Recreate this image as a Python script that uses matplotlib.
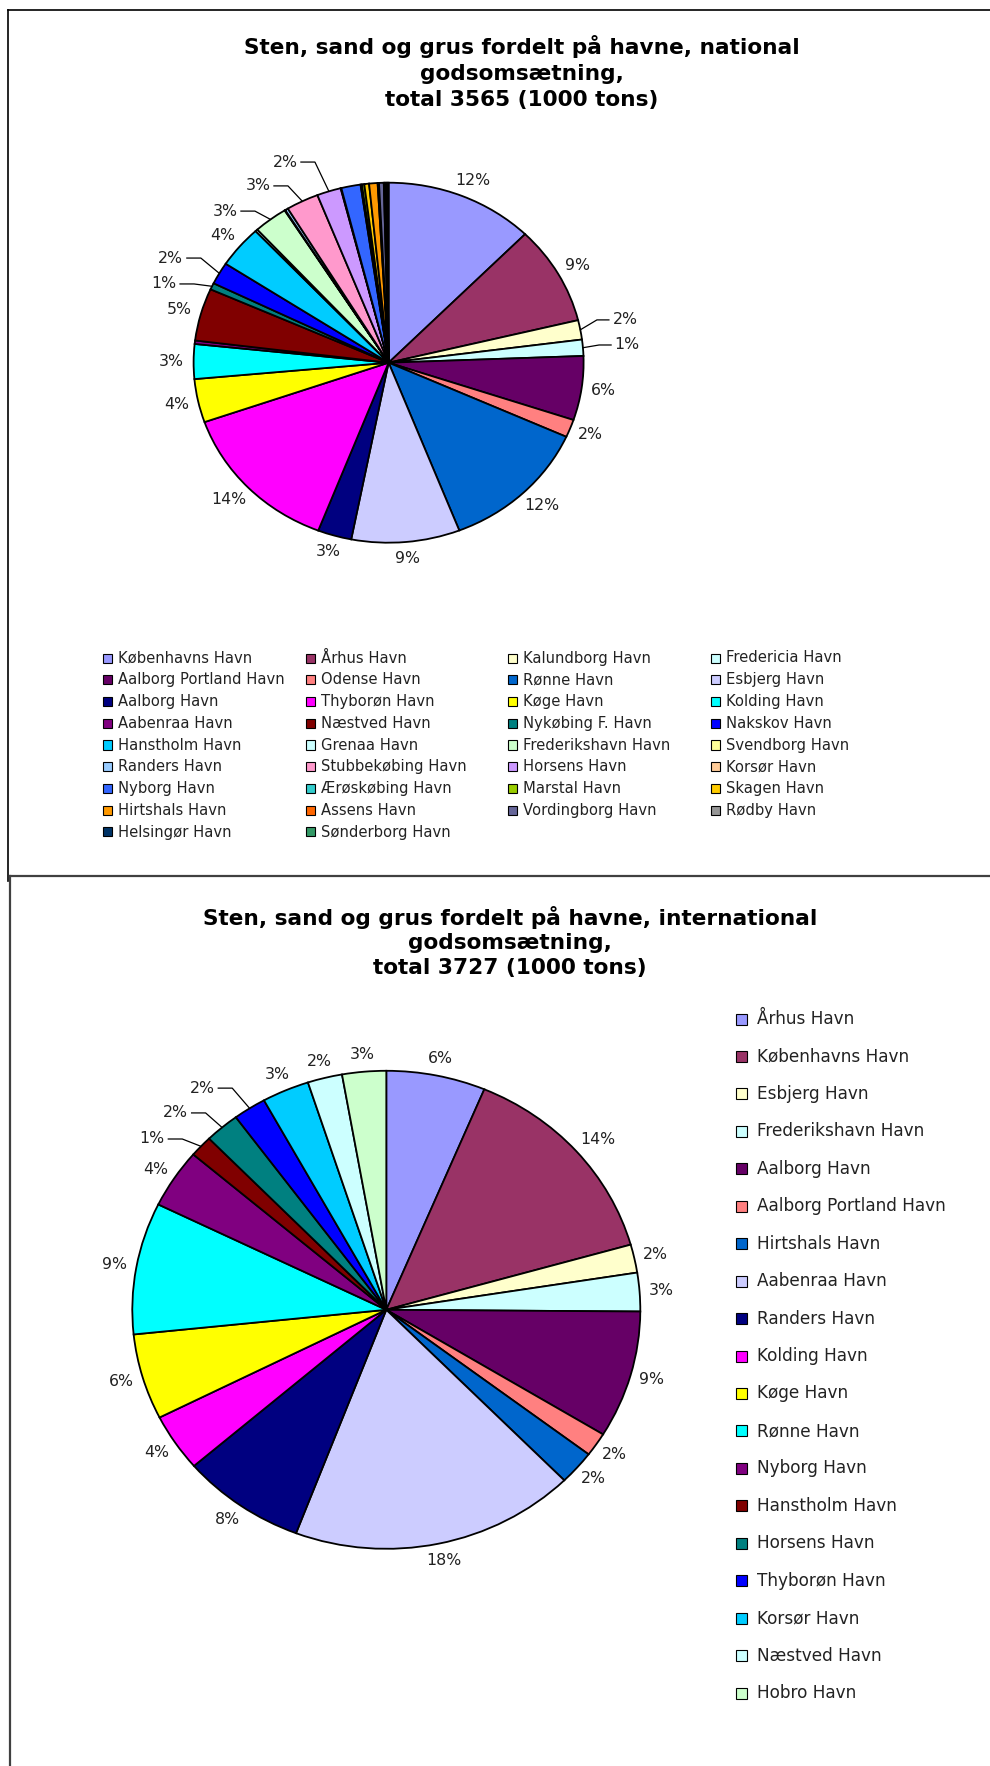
import numpy as np
import matplotlib.pyplot as plt
from matplotlib.patches import Rectangle
from matplotlib.lines import Line2D

# --- national godsomsætning (1000 tons) ---
nat_havne = ["Københavns Havn", "Århus Havn", "Kalundborg Havn", "Fredericia Havn",
             "Aalborg Portland Havn", "Odense Havn", "Rønne Havn", "Esbjerg Havn",
             "Aalborg Havn", "Thyborøn Havn", "Køge Havn", "Kolding Havn",
             "Aabenraa Havn", "Næstved Havn", "Nykøbing F. Havn", "Nakskov Havn",
             "Hanstholm Havn", "Grenaa Havn", "Frederikshavn Havn", "Svendborg Havn",
             "Randers Havn", "Stubbekøbing Havn", "Horsens Havn", "Korsør Havn",
             "Nyborg Havn", "Ærøskøbing Havn", "Marstal Havn", "Skagen Havn",
             "Hirtshals Havn", "Assens Havn", "Vordingborg Havn", "Rødby Havn",
             "Helsingør Havn", "Sønderborg Havn"]
nat_tons = [440, 316, 62, 52, 205, 57, 440, 320, 100, 491, 139, 111,
            11, 168, 21, 71, 135, 7, 100, 2, 9, 96, 71, 2,
            57, 4, 7, 14, 25, 4, 14, 4, 5, 5]
# slices that carry a percentage label in the original
nat_vis = [1, 1, 1, 1, 1, 1, 1, 1, 1, 1, 1, 1,
           0, 1, 1, 1, 1, 0, 1, 0, 0, 1, 1, 0,
           0, 0, 0, 0, 0, 0, 0, 0, 0, 0]
nat_title = ["Sten, sand og grus fordelt på havne, national",
             "godsomsætning,", "total 3565 (1000 tons)"]

# --- international godsomsætning (1000 tons) ---
int_havne = ["Århus Havn", "Københavns Havn", "Esbjerg Havn", "Frederikshavn Havn",
             "Aalborg Havn", "Aalborg Portland Havn", "Hirtshals Havn", "Aabenraa Havn",
             "Randers Havn", "Kolding Havn", "Køge Havn", "Rønne Havn", "Nyborg Havn",
             "Hanstholm Havn", "Horsens Havn", "Thyborøn Havn", "Korsør Havn",
             "Næstved Havn", "Hobro Havn"]
int_tons = [235, 533, 71, 97, 321, 60, 86, 676, 294, 145, 216, 332, 149,
            54, 82, 78, 112, 82, 104]
int_title = ["Sten, sand og grus fordelt på havne, international",
             "godsomsætning,", "total 3727 (1000 tons)"]

palette = ["#9999FF", "#993366", "#FFFFCC", "#CCFFFF", "#660066", "#FF8080",
           "#0066CC", "#CCCCFF", "#000080", "#FF00FF", "#FFFF00", "#00FFFF",
           "#800080", "#800000", "#008080", "#0000FF", "#00CCFF", "#CCFFFF",
           "#CCFFCC", "#FFFF99", "#99CCFF", "#FF99CC", "#CC99FF", "#FFCC99",
           "#3366FF", "#33CCCC", "#99CC00", "#FFCC00", "#FF9900", "#FF6600",
           "#666699", "#969696", "#003366", "#339966"]

W, H = 990, 1766
fig = plt.figure(figsize=(W / 100, H / 100), dpi=100)
TXT = "#222222"


def fx(x):
    return x / W


def fy(y):
    return 1 - y / H


def draw_pie(cx, cy, rx, ry, values, show, leaders):
    ax = fig.add_axes([fx(cx - 1.5 * rx), fy(cy + 1.5 * ry), 3 * rx / W, 3 * ry / H])
    ax.pie(values, colors=palette[:len(values)], startangle=90, counterclock=False,
           wedgeprops=dict(edgecolor="black", linewidth=1.3))
    ax.set_aspect("auto")
    ax.set_xlim(-1.5, 1.5)
    ax.set_ylim(-1.5, 1.5)
    ax.axis("off")
    total = sum(values)
    cum = 0
    for i, v in enumerate(values):
        th = np.radians(360 * (cum + v / 2) / total)
        cum += v
        if not show[i]:
            continue
        txt = "%d%%" % round(v / total * 100)
        s, c = np.sin(th), np.cos(th)
        hw = 6 * len(txt)
        if i in leaders:
            a, r = leaders[i]
            a = np.radians(a)
            tx, ty = r * np.sin(a) * rx, r * np.cos(a) * ry  # pixels from centre
            if tx < 0:
                x1, x2 = tx + hw + 4, tx + hw + 18
            else:
                x1, x2 = tx - hw - 4, tx - hw - 16
            ax.plot([s, x2 / rx, x1 / rx], [c, ty / ry, ty / ry], color="black", lw=0.9)
        else:
            tx = s * rx + 10 * s + hw * s
            ty = c * ry + 10 * c + 7 * c
        ax.text(tx / rx, ty / ry, txt, ha="center", va="center", fontsize=11.3,
                color=TXT)


def draw_title(lines, xc, y0, dy):
    for k, line in enumerate(lines):
        fig.text(fx(xc), fy(y0 + k * dy), line, ha="center", va="center",
                 fontsize=15.6, fontweight="bold", color="black")


# frames
fig.add_artist(Line2D([fx(8), fx(8)], [fy(10), fy(881)], color="black", lw=1.2))
fig.add_artist(Line2D([fx(8), fx(990)], [fy(10), fy(10)], color="black", lw=1.2))
fig.add_artist(Line2D([fx(10), fx(990)], [fy(876), fy(876)], color="#404040", lw=1.6))
fig.add_artist(Line2D([fx(10), fx(10)], [fy(876), fy(1766)], color="#404040", lw=1.6))

# national chart
draw_title(nat_title, 522, 47, 26.5)
draw_pie(388.6, 362.7, 195, 180, nat_tons, nat_vis,
         {2: (78.9, 1.235), 3: (85.4, 1.227), 14: (290.8, 1.232), 15: (297.5, 1.259),
          18: (315.1, 1.189), 21: (325.7, 1.189), 22: (334.5, 1.235)})

for i, name in enumerate(nat_havne):
    row, col = divmod(i, 4)
    x = 103 + col * 202.6
    y = 658 + row * 21.75
    fig.add_artist(Rectangle((fx(x), fy(y + 4.5)), 9 / W, 9 / H, facecolor=palette[i],
                             edgecolor="black", lw=0.8, transform=fig.transFigure))
    fig.text(fx(x + 15), fy(y), name, ha="left", va="center", fontsize=10.6, color=TXT)

# international chart
draw_title(int_title, 510, 918, 25)
draw_pie(386.3, 1309.8, 254, 239, int_tons, [1] * len(int_tons),
         {13: (307.8, 1.166), 14: (314.8, 1.169), 15: (322.0, 1.177)})

for i, name in enumerate(int_havne):
    y = 1019 + i * 37.45
    fig.add_artist(Rectangle((fx(736), fy(y + 5.5)), 11 / W, 11 / H, facecolor=palette[i],
                             edgecolor="black", lw=0.8, transform=fig.transFigure))
    fig.text(fx(757), fy(y), name, ha="left", va="center", fontsize=12.2, color=TXT)

fig.savefig("out.png", dpi=100, facecolor="white")
